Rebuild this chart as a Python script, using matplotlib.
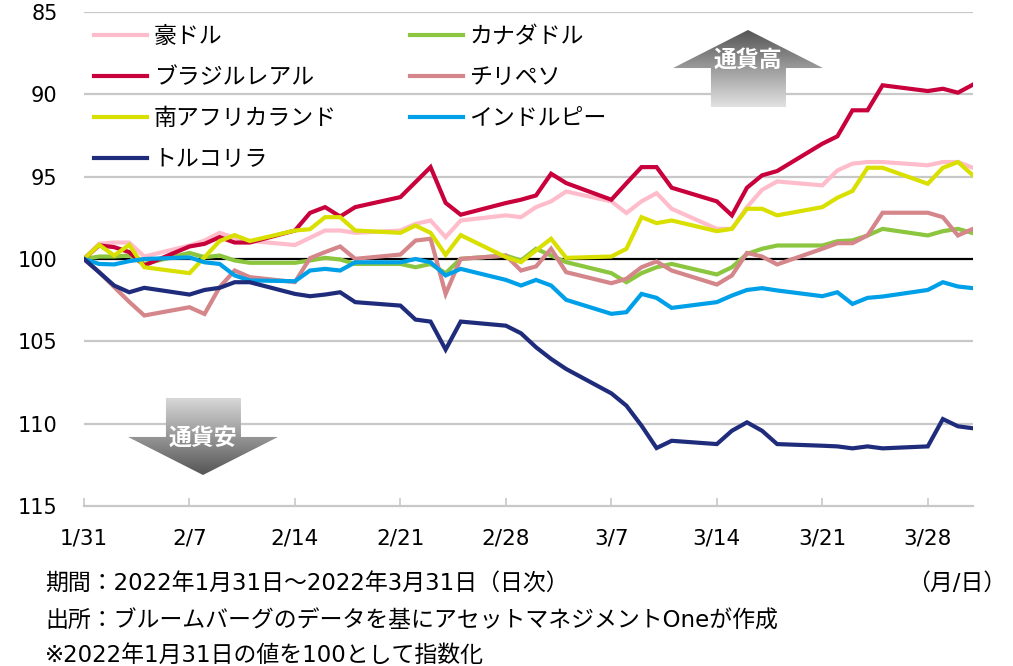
import numpy as np
import pandas as pd
import matplotlib.pyplot as plt
from matplotlib.patches import Polygon
from matplotlib.colors import LinearSegmentedColormap

plt.rcParams['font.family'] = ['DejaVu Sans', 'Noto Sans CJK JP']

# business days 2022/1/31 - 2022/3/31
dates = pd.bdate_range('2022-01-31', '2022-03-31')
tick_dates = pd.date_range('2022-01-31', '2022-03-28', freq='7D')
tick_labels = ['1/31', '2/7', '2/14', '2/21', '2/28', '3/7', '3/14', '3/21', '3/28']

names = ['豪ドル', 'カナダドル', 'ブラジルレアル', 'チリペソ',
         '南アフリカランド', 'インドルピー', 'トルコリラ']
colors = ['#ffbccb', '#8cc63e', '#c8003c', '#d4868a',
          '#d9e000', '#00a0e9', '#1f2c7c']

aud = [100, 99.08, 99.0, 99.0, 99.85, 99.18, 98.88, 98.41, 98.71, 98.9,
       99.15, 98.71, 98.27, 98.27, 98.41, 98.27, 97.87, 97.66, 98.67, 97.66,
       97.35, 97.46, 96.85, 96.5, 95.9, 96.5, 97.21, 96.5, 96.0, 96.95,
       98.17, 98.17, 96.85, 95.8, 95.29, 95.53, 94.62, 94.21, 94.11, 94.11,
       94.31, 94.11, 94.11, 94.46]
cad = [100, 99.85, 99.85, 99.79, 100.3, 99.63, 99.89, 99.79, 100.09, 100.23,
       100.23, 100.09, 99.93, 100.03, 100.3, 100.3, 100.5, 100.3, 100.86, 99.99,
       99.79, 100.09, 99.38, 99.79, 100.19, 100.86, 101.41, 100.86, 100.5, 100.3,
       100.94, 100.5, 99.69, 99.38, 99.18, 99.18, 98.92, 98.87, 98.57, 98.17,
       98.57, 98.31, 98.17, 98.43]
brl = [100, 99.17, 99.28, 99.58, 100.39, 99.24, 99.08, 98.67, 99.0, 99.0,
       98.27, 97.2, 96.85, 97.42, 96.85, 96.24, 95.33, 94.42, 96.59, 97.31,
       96.6, 96.4, 96.14, 94.82, 95.39, 96.4, 95.4, 94.42, 94.42, 95.67,
       96.5, 97.35, 95.67, 94.92, 94.66, 93.0, 92.55, 90.97, 90.97, 89.45,
       89.8, 89.66, 89.9, 89.41]
clp = [100, 100.8, 101.7, 102.6, 103.43, 102.93, 103.34, 101.71, 100.7, 101.1,
       101.4, 99.95, 99.58, 99.24, 99.99, 99.73, 98.88, 98.77, 102.12, 99.99,
       99.79, 100.7, 100.45, 99.38, 100.8, 101.47, 101.2, 100.5, 100.15, 100.7,
       101.55, 101.0, 99.63, 99.85, 100.33, 99.38, 99.04, 99.04, 98.57, 97.19,
       97.19, 97.46, 98.57, 98.17]
zar = [100, 99.14, 99.79, 99.14, 100.5, 100.86, 99.89, 98.91, 98.55, 98.91,
       98.27, 98.19, 97.46, 97.46, 98.27, 98.41, 97.97, 98.41, 99.75, 98.55,
       99.89, 100.19, 99.48, 98.77, 99.93, 99.85, 99.38, 97.46, 97.82, 97.66,
       98.31, 98.17, 96.95, 96.95, 97.35, 96.85, 96.28, 95.87, 94.46, 94.46,
       95.43, 94.46, 94.11, 94.92]
inr = [100, 100.3, 100.33, 100.13, 100.0, 99.9, 100.2, 100.3, 101.0, 101.3,
       101.35, 100.7, 100.6, 100.7, 100.2, 100.2, 100.0, 100.2, 101.0, 100.6,
       101.27, 101.61, 101.27, 101.61, 102.48, 103.33, 103.23, 102.12, 102.36, 102.97,
       102.62, 102.22, 101.88, 101.77, 101.91, 102.26, 102.02, 102.73, 102.36, 102.28,
       101.88, 101.41, 101.67, 101.77]
try_ = [100, 100.8, 101.61, 102.02, 101.75, 102.16, 101.88, 101.75, 101.41, 101.41,
        102.12, 102.26, 102.16, 102.02, 102.62, 102.83, 103.68, 103.8, 105.5, 103.8,
        104.05, 104.51, 105.36, 106.07, 106.68, 108.16, 108.91, 110.12, 111.48, 111.04,
        111.24, 110.43, 109.92, 110.43, 111.24, 111.34, 111.38, 111.5, 111.38, 111.5,
        111.38, 109.72, 110.16, 110.28]
series = [aud, cad, brl, clp, zar, inr, try_]

W, H = 1013, 666
fig = plt.figure(figsize=(W / 100, H / 100), dpi=100)
ax = fig.add_axes([84 / W, 1 - 506 / H, 889 / W, 494 / H])

for v in [85, 90, 95, 105, 110]:
    ax.axhline(v, color='#c8c8c8', lw=1.6, zorder=1)
ax.axhline(100, color='black', lw=1.6, zorder=2)

lines = []
for vals, c in zip(series, colors):
    ln, = ax.plot(dates, vals, color=c, lw=3, zorder=3, solid_joinstyle='miter')
    lines.append(ln)

ax.set_ylim(115, 85)
ax.set_xlim(dates[0], dates[-1])
ax.set_yticks([85, 90, 95, 100, 105, 110, 115])
ax.set_xticks(tick_dates)
ax.set_xticklabels(tick_labels)
for s in ['top', 'left', 'right']:
    ax.spines[s].set_visible(False)
ax.spines['bottom'].set_color('#c8c8c8')
ax.spines['bottom'].set_linewidth(1.6)
ax.tick_params(axis='y', length=0, pad=19, labelsize=15)
ax.tick_params(axis='x', direction='in', length=6, width=1.2, color='#c8c8c8',
               pad=16, labelsize=15.5)

order = [0, 2, 4, 6, 1, 3, 5]
ax.legend([lines[i] for i in order], [names[i] for i in order], ncol=2,
          loc='upper left', bbox_to_anchor=(10 / 889, 1 - 13 / 494),
          frameon=False, fontsize=16.5, handlelength=2.3, handletextpad=0.3,
          columnspacing=3.2, labelspacing=0.78, borderaxespad=0, borderpad=0)

# gradient arrows
def arrow(left, top, up, label):
    aa = fig.add_axes([left / W, 1 - (top + 77) / H, 150 / W, 77 / H])
    aa.set_xlim(0, 1)
    aa.set_ylim(0, 1)
    aa.axis('off')
    if up:
        pts = [(0.253, 0), (0.753, 0), (0.753, 0.506), (1, 0.506),
               (0.5, 1), (0, 0.506), (0.253, 0.506)]
        cmap = LinearSegmentedColormap.from_list('g', ['#e2e2e2', '#555555'])
        ty = 0.61
    else:
        pts = [(0.253, 1), (0.753, 1), (0.753, 0.494), (1, 0.494),
               (0.5, 0), (0, 0.494), (0.253, 0.494)]
        cmap = LinearSegmentedColormap.from_list('g', ['#555555', '#d8d8d8'])
        ty = 0.48
    poly = Polygon(pts, closed=True, facecolor='none', edgecolor='none')
    aa.add_patch(poly)
    grad = np.linspace(0, 1, 256).reshape(-1, 1)
    im = aa.imshow(grad, extent=[0, 1, 0, 1], origin='lower', aspect='auto', cmap=cmap)
    im.set_clip_path(poly)
    aa.text(0.5, ty, label, color='white', fontsize=16.5, fontweight='bold',
            ha='center', va='center', family=['Noto Sans CJK JP'])

arrow(673, 30, True, '通貨高')
arrow(128, 398, False, '通貨安')

fs = 16.5
fig.text(45 / W, 1 - 583 / H, '期間：2022年1月31日～2022年3月31日（日次）', fontsize=fs, va='center')
fig.text(45 / W, 1 - 621 / H, '出所：ブルームバーグのデータを基にアセットマネジメントOneが作成', fontsize=fs, va='center')
fig.text(45 / W, 1 - 655 / H, '※2022年1月31日の値を100として指数化', fontsize=fs, va='center')
fig.text(1006 / W, 1 - 583 / H, '（月/日）', fontsize=fs, va='center', ha='right')

fig.savefig('out.png', dpi=100)
